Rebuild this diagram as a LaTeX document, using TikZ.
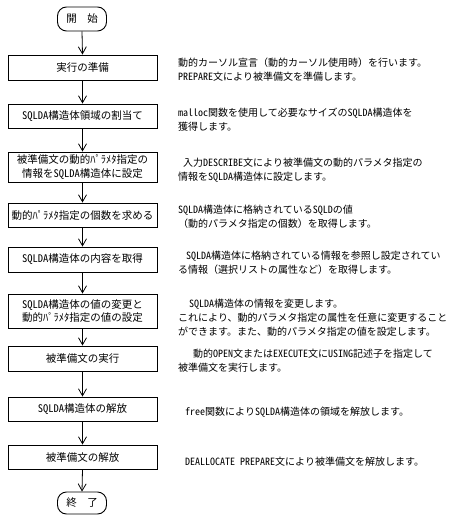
\documentclass[tikz,border=0pt]{standalone}
\usepackage{fontspec}
\setmainfont[RawFeature=+hwid]{Noto Sans CJK JP}
\newfontfamily\fwfont{Noto Sans CJK JP}
\newcommand{\fwl}{{\fwfont （}}
\newcommand{\fwr}{{\fwfont ）}}
\usetikzlibrary{arrows.meta}
\begin{document}
\begin{tikzpicture}[x=1pt,y=-1pt,
  box/.style={draw, line width=0.9pt, minimum width=149pt, inner sep=0pt, font=\fontsize{10.5}{13.5}\selectfont, align=center},
  term/.style={draw, line width=0.9pt, rounded corners=9pt, minimum width=49pt, inner sep=0pt, font=\fontsize{10.5}{14}\selectfont},
  desc/.style={anchor=west, align=left, inner sep=0pt, font=\fontsize{10}{13.8}\selectfont},
  flow/.style={draw, line width=0.8pt, -{Straight Barb[length=7pt,width=8pt]}}]
\useasboundingbox (0,0) rectangle (454,526);
\node[term, minimum height=24pt] (start) at (82,19) {開\hspace{1em}始};
\node[box, minimum height=25pt] (b1) at (82.5,67.5) {実行の準備};
\node[box, minimum height=24pt] (b2) at (82.5,116) {SQLDA構造体領域の割当て};
\node[box, minimum height=30pt] (b3) at (82.5,167) {被準備文の動的ﾊﾟﾗﾒﾀ指定の\\情報をSQLDA構造体に設定};
\node[box, minimum height=24pt] (b4) at (82.5,215) {動的ﾊﾟﾗﾒﾀ指定の個数を求める};
\node[box, minimum height=25pt] (b5) at (82.5,259.5) {SQLDA構造体の内容を取得};
\node[box, minimum height=34pt] (b6) at (82.5,311) {SQLDA構造体の値の変更と\\動的ﾊﾟﾗﾒﾀ指定の値の設定};
\node[box, minimum height=25pt] (b7) at (82.5,358.5) {被準備文の実行};
\node[box, minimum height=24pt] (b8) at (82.5,409) {SQLDA構造体の解放};
\node[box, minimum height=24pt] (b9) at (82.5,457) {被準備文の解放};
\node[term, minimum height=22pt] (end) at (82,503) {終\hspace{1em}了};

\foreach \a/\b in {start/b1,b1/b2,b2/b3,b3/b4,b4/b5,b5/b6,b6/b7,b7/b8,b8/b9,b9/end}
  \draw[flow] (\a.south) -- (\b.north);

\node[desc] (d1) at (178,70) {動的カーソル宣言\fwl 動的カーソル使用時\fwr を行います。\\PREPARE文により被準備文を準備します。};
\node[desc] (d2) at (178,119.5) {malloc関数を使用して必要なサイズのSQLDA構造体を\\獲得します。};
\node[desc] (d3) at (178,170) {\hspace{5pt}入力DESCRIBE文により被準備文の動的パラメタ指定の\\情報をSQLDA構造体に設定します。};
\node[desc] (d4) at (178,217) {SQLDA構造体に格納されているSQLDの値\\\fwl 動的パラメタ指定の個数\fwr を取得します。};
\node[desc] (d5) at (178,263) {\hspace{8pt}SQLDA構造体に格納されている情報を参照し設定されてい\\る情報\fwl 選択リストの属性など\fwr を取得します。};
\node[desc] (d6) at (178,318) {\hspace{11pt}SQLDA構造体の情報を変更します。\\これにより、動的パラメタ指定の属性を任意に変更すること\\ができます。また、動的パラメタ指定の値を設定します。};
\node[desc] (d7) at (178,361) {\hspace{15pt}動的OPEN文またはEXECUTE文にUSING記述子を指定して\\被準備文を実行します。};
\node[desc] (d8) at (185,412.5) {free関数によりSQLDA構造体の領域を解放します。};
\node[desc] (d9) at (185,462) {DEALLOCATE PREPARE文により被準備文を解放します。};
\end{tikzpicture}
\end{document}
